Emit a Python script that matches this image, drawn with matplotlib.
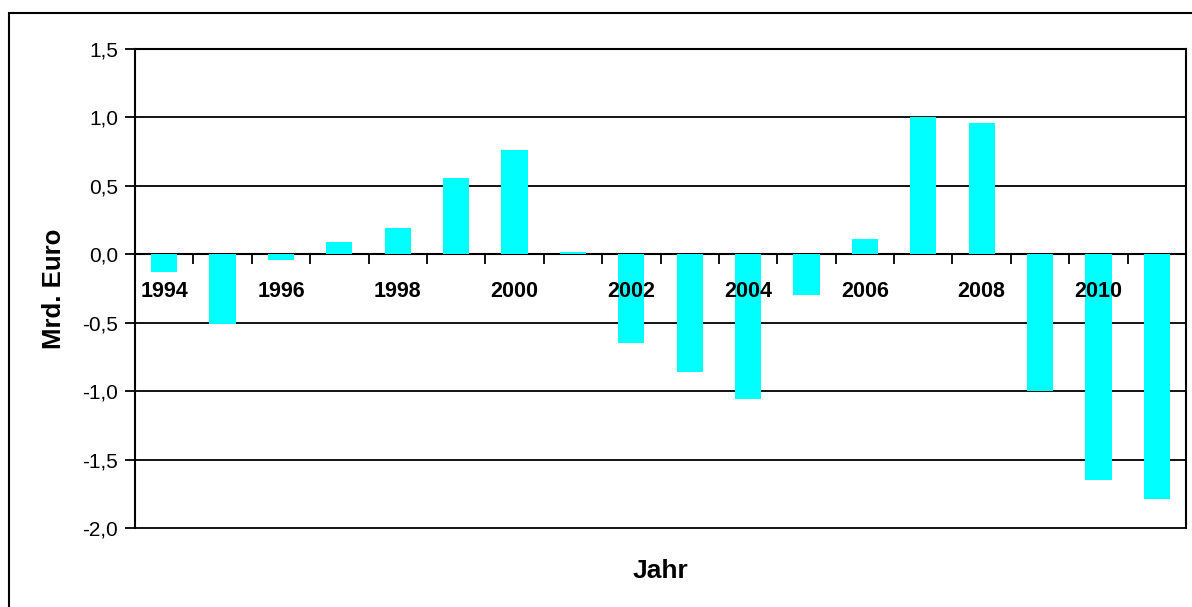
import matplotlib.pyplot as plt
from matplotlib.patches import Rectangle
from matplotlib.ticker import FuncFormatter, FixedLocator
import numpy as np

plt.rcParams['font.family'] = ['Liberation Sans', 'DejaVu Sans']

# Daten
jahre = list(range(1994, 2012))
werte = [-0.13, -0.51, -0.04, 0.09, 0.19, 0.56, 0.76, 0.015, -0.65, -0.86,
         -1.06, -0.30, 0.115, 1.0, 0.96, -1.0, -1.65, -1.79]
beschriftung = [str(j) if j % 2 == 0 else '' for j in jahre]

fig = plt.figure(figsize=(11.92, 6.07), dpi=100)
ax = fig.add_axes([135 / 1192, 1 - 528 / 607, (1186 - 135) / 1192, (528 - 49) / 607])

x = np.arange(len(jahre))
ax.bar(x, werte, width=0.45, color='#00FFFF', zorder=3)

ax.set_xlim(-0.5, len(jahre) - 0.5)
ax.set_ylim(-2.0, 1.5)
ax.set_yticks(np.arange(-2.0, 1.51, 0.5))
ax.yaxis.set_major_formatter(FuncFormatter(lambda v, p: f'{v:.1f}'.replace('.', ',')))
ax.grid(axis='y', color='black', linewidth=1.3, zorder=1)
for gl in ax.get_ygridlines():
    gl.set_clip_on(False)

# x-Achse auf der Nulllinie, Beschriftung über den Balken
ax.spines['bottom'].set_position(('data', 0))
ax.spines['bottom'].set_zorder(2)
ax.xaxis.set_zorder(5)
ax.set_xticks(x)
ax.set_xticklabels(beschriftung, fontsize=15.5, fontweight='bold')
ax.xaxis.set_minor_locator(FixedLocator(np.arange(0.5, len(jahre) - 0.5, 1)))
ax.tick_params(axis='x', which='major', length=0, pad=19)
ax.tick_params(axis='x', which='minor', length=7, width=1.3, direction='out')
ax.tick_params(axis='y', length=7, width=1.3, labelsize=15, pad=5)
for s in ['left', 'right', 'top', 'bottom']:
    ax.spines[s].set_linewidth(1.5)

ax.set_ylabel('Mrd. Euro', fontsize=18.5, fontweight='bold', labelpad=12)
fig.text((135 + 1186) / 2 / 1192, 1 - 571 / 607, 'Jahr', fontsize=19,
         fontweight='bold', ha='center', va='center')

# Rahmen um das Diagramm
fig.patches.append(Rectangle((9 / 1192, -0.1), 1.2, 1 - 13 / 607 + 0.1,
                             transform=fig.transFigure, fill=False,
                             edgecolor='black', linewidth=1.5))

fig.savefig('out.png', dpi=100)
